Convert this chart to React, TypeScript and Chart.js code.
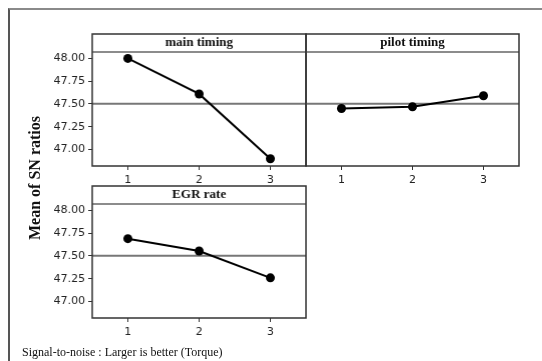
import React, { useEffect, useRef } from "react";
import { Chart, registerables } from "chart.js";

Chart.register(...registerables);

const levels = ["1", "2", "3"];
const mainTiming = [48.0, 47.61, 46.9];
const pilotTiming = [47.45, 47.47, 47.59];
const egrRate = [47.69, 47.555, 47.26];
const yTicks = [47.0, 47.25, 47.5, 47.75, 48.0];
const yMin = 46.82;
const yMax = 48.07;
const allValues = [...mainTiming, ...pilotTiming, ...egrRate];
const grandMean = allValues.reduce((a, b) => a + b, 0) / allValues.length;

type PanelDef = {
  title: string;
  values: number[];
  L: number;
  T: number;
  R: number;
  B: number;
  showY: boolean;
};

const panels: PanelDef[] = [
  { title: "main timing", values: mainTiming, L: 92, T: 52, R: 305.5, B: 166, showY: true },
  { title: "pilot timing", values: pilotTiming, L: 305.5, T: 52, R: 519, B: 166, showY: false },
  { title: "EGR rate", values: egrRate, L: 92, T: 203.5, R: 305.5, B: 317.5, showY: true },
];

const HEADER = 18;

function Panel({ def }: { def: PanelDef }) {
  const ref = useRef<HTMLCanvasElement | null>(null);
  const w = def.R - def.L + 70;
  const h = def.B - def.T + 80;
  useEffect(() => {
    if (!ref.current) return;
    const framePlugin = {
      id: "frame" + def.title.replace(/\s/g, ""),
      beforeDatasetsDraw(chart: any) {
        const { ctx, chartArea, scales } = chart;
        const { left, right, top, bottom } = chartArea;
        ctx.save();
        const my = scales.y.getPixelForValue(grandMean);
        ctx.strokeStyle = "#777";
        ctx.lineWidth = 2;
        ctx.beginPath();
        ctx.moveTo(left, my);
        ctx.lineTo(right, my);
        ctx.stroke();
        ctx.strokeStyle = "#666";
        ctx.lineWidth = 1.5;
        ctx.beginPath();
        ctx.moveTo(left, top);
        ctx.lineTo(right, top);
        ctx.stroke();
        ctx.strokeStyle = "#333";
        ctx.lineWidth = 1.5;
        ctx.strokeRect(left, top - HEADER, right - left, bottom - top + HEADER);
        ctx.fillStyle = "#111";
        ctx.font = "bold 13px 'Liberation Serif', serif";
        ctx.textAlign = "center";
        ctx.textBaseline = "middle";
        ctx.fillText(def.title, (left + right) / 2, top - HEADER / 2);
        ctx.restore();
      },
    };
    const chart = new Chart(ref.current, {
      type: "line",
      data: {
        labels: levels,
        datasets: [
          {
            data: def.values,
            borderColor: "#000",
            backgroundColor: "#000",
            borderWidth: 2,
            pointRadius: 4.5,
            pointBackgroundColor: "#000",
            pointBorderWidth: 0,
            tension: 0,
          },
        ],
      },
      options: {
        animation: false,
        responsive: false,
        maintainAspectRatio: false,
        layout: { padding: { top: 30, left: 0, right: 10, bottom: 20 } },
        plugins: { legend: { display: false }, tooltip: { enabled: false } },
        scales: {
          x: {
            type: "category",
            offset: true,
            grid: {
              display: true,
              offset: false,
              drawOnChartArea: false,
              drawTicks: true,
              tickLength: 4,
              color: "#333",
            },
            border: { display: false },
            ticks: {
              color: "#222",
              font: { family: "'DejaVu Sans', sans-serif", size: 11 },
              padding: 4,
              maxRotation: 0,
            },
            afterFit: (s: any) => {
              s.height = 30;
            },
          },
          y: {
            type: "linear",
            min: yMin,
            max: yMax,
            grid: {
              display: def.showY,
              drawOnChartArea: false,
              drawTicks: true,
              tickLength: 4,
              color: "#333",
            },
            border: { display: false },
            ticks: {
              display: def.showY,
              color: "#222",
              font: { family: "'DejaVu Sans', sans-serif", size: 11 },
              padding: 3,
              callback: (v: any) => Number(v).toFixed(2),
            },
            afterBuildTicks: (s: any) => {
              s.ticks = yTicks.map((v) => ({ value: v }));
            },
            afterFit: (s: any) => {
              s.width = 60;
            },
          },
        },
      },
      plugins: [framePlugin],
    });
    return () => chart.destroy();
  }, [def]);
  return (
    <canvas
      ref={ref}
      width={w}
      height={h}
      style={{
        position: "absolute",
        left: def.L - 60,
        top: def.T - 30,
        width: w,
        height: h,
      }}
    />
  );
}

export default function App() {
  useEffect(() => {
    document.body.style.margin = "0";
  }, []);
  return (
    <div
      style={{
        position: "absolute",
        left: 0,
        top: 0,
        width: 542,
        height: 361,
        background: "#fff",
        overflow: "hidden",
      }}
    >
      <div
        style={{
          position: "absolute",
          left: 8,
          top: 8,
          width: 600,
          height: 400,
          borderTop: "2px solid #8a8a8a",
          borderLeft: "2px solid #555",
        }}
      />
      {panels.map((p) => (
        <Panel key={p.title} def={p} />
      ))}
      <div
        style={{
          position: "absolute",
          left: 35 - 100,
          top: 178 - 10,
          width: 200,
          height: 20,
          lineHeight: "20px",
          textAlign: "center",
          transform: "rotate(-90deg)",
          fontFamily: "'Liberation Serif', serif",
          fontWeight: "bold",
          fontSize: 16,
          color: "#111",
          whiteSpace: "nowrap",
        }}
      >
        Mean of SN ratios
      </div>
      <div
        style={{
          position: "absolute",
          left: 22,
          top: 344,
          fontFamily: "'Liberation Serif', serif",
          fontSize: 12,
          lineHeight: "16px",
          color: "#111",
          whiteSpace: "nowrap",
        }}
      >
        Signal-to-noise : Larger is better (Torque)
      </div>
    </div>
  );
}
